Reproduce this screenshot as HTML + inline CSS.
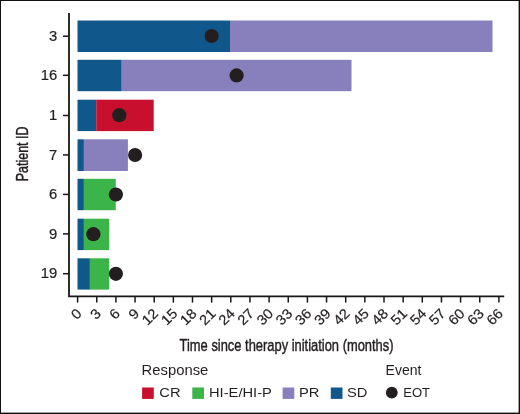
<!DOCTYPE html>
<html><head><meta charset="utf-8"><title>Swimmer plot</title>
<style>
html,body{margin:0;padding:0;background:#fff;}
body{width:520px;height:414px;overflow:hidden;}
svg{display:block;}
text{font-family:"Liberation Sans",Arial,Helvetica,sans-serif;fill:#231f20;}
</style></head><body>
<svg width="520" height="414" viewBox="0 0 520 414">
<rect x="0" y="0" width="520" height="414" fill="#fff"/>

<rect x="0" y="0" width="520" height="1" fill="#111"/>
<rect x="0" y="0" width="1" height="414" fill="#111"/>
<rect x="518.6" y="0" width="1.4" height="414" fill="#111"/>
<rect x="0" y="412.6" width="520" height="1.4" fill="#111"/>
<rect x="77.50" y="20.50" width="152.50" height="31.50" fill="#10588c"/>
<rect x="230.00" y="20.50" width="262.50" height="31.50" fill="#8780bd"/>
<rect x="77.50" y="59.80" width="44.25" height="31.40" fill="#10588c"/>
<rect x="121.75" y="59.80" width="229.75" height="31.40" fill="#8780bd"/>
<rect x="77.50" y="99.70" width="18.70" height="31.40" fill="#10588c"/>
<rect x="96.20" y="99.70" width="57.50" height="31.40" fill="#c8102e"/>
<rect x="77.50" y="139.30" width="6.40" height="31.70" fill="#10588c"/>
<rect x="83.90" y="139.30" width="44.00" height="31.70" fill="#8780bd"/>
<rect x="77.50" y="178.80" width="6.40" height="31.40" fill="#10588c"/>
<rect x="83.90" y="178.80" width="31.85" height="31.40" fill="#3bb44a"/>
<rect x="77.50" y="218.70" width="6.40" height="31.40" fill="#10588c"/>
<rect x="83.90" y="218.70" width="25.30" height="31.40" fill="#3bb44a"/>
<rect x="77.50" y="258.30" width="12.40" height="31.30" fill="#10588c"/>
<rect x="89.90" y="258.30" width="19.30" height="31.30" fill="#3bb44a"/>
<circle cx="211.60" cy="36.00" r="7.1" fill="#231f20"/>
<circle cx="236.60" cy="75.40" r="7.1" fill="#231f20"/>
<circle cx="119.30" cy="115.20" r="7.1" fill="#231f20"/>
<circle cx="135.10" cy="155.00" r="7.1" fill="#231f20"/>
<circle cx="115.90" cy="194.50" r="7.1" fill="#231f20"/>
<circle cx="93.40" cy="234.20" r="7.1" fill="#231f20"/>
<circle cx="115.90" cy="273.80" r="7.1" fill="#231f20"/>
<path d="M69 12.9 V296.4 H504.2" fill="none" stroke="#1a1718" stroke-width="1.8"/>
<path d="M63 36.20 H69" stroke="#1a1718" stroke-width="1.5"/>
<text transform="translate(57.2 40.85) scale(1.06 1)" font-size="14.0" text-anchor="end" stroke="#231f20" stroke-width="0.2">3</text>
<path d="M63 75.30 H69" stroke="#1a1718" stroke-width="1.5"/>
<text transform="translate(57.2 79.95) scale(1.06 1)" font-size="14.0" text-anchor="end" stroke="#231f20" stroke-width="0.2">16</text>
<path d="M63 115.50 H69" stroke="#1a1718" stroke-width="1.5"/>
<text transform="translate(57.2 120.15) scale(1.06 1)" font-size="14.0" text-anchor="end" stroke="#231f20" stroke-width="0.2">1</text>
<path d="M63 154.90 H69" stroke="#1a1718" stroke-width="1.5"/>
<text transform="translate(57.2 159.55) scale(1.06 1)" font-size="14.0" text-anchor="end" stroke="#231f20" stroke-width="0.2">7</text>
<path d="M63 194.40 H69" stroke="#1a1718" stroke-width="1.5"/>
<text transform="translate(57.2 199.05) scale(1.06 1)" font-size="14.0" text-anchor="end" stroke="#231f20" stroke-width="0.2">6</text>
<path d="M63 233.90 H69" stroke="#1a1718" stroke-width="1.5"/>
<text transform="translate(57.2 238.55) scale(1.06 1)" font-size="14.0" text-anchor="end" stroke="#231f20" stroke-width="0.2">9</text>
<path d="M63 273.70 H69" stroke="#1a1718" stroke-width="1.5"/>
<text transform="translate(57.2 278.35) scale(1.06 1)" font-size="14.0" text-anchor="end" stroke="#231f20" stroke-width="0.2">19</text>
<path d="M77.60 296.4 V302.6" stroke="#1a1718" stroke-width="1.5"/>
<text transform="translate(82.60 314.3) rotate(-45) scale(1.06 1)" font-size="14.0" text-anchor="end" stroke="#231f20" stroke-width="0.2">0</text>
<path d="M96.75 296.4 V302.6" stroke="#1a1718" stroke-width="1.5"/>
<text transform="translate(101.75 314.3) rotate(-45) scale(1.06 1)" font-size="14.0" text-anchor="end" stroke="#231f20" stroke-width="0.2">3</text>
<path d="M115.90 296.4 V302.6" stroke="#1a1718" stroke-width="1.5"/>
<text transform="translate(120.90 314.3) rotate(-45) scale(1.06 1)" font-size="14.0" text-anchor="end" stroke="#231f20" stroke-width="0.2">6</text>
<path d="M135.05 296.4 V302.6" stroke="#1a1718" stroke-width="1.5"/>
<text transform="translate(140.05 314.3) rotate(-45) scale(1.06 1)" font-size="14.0" text-anchor="end" stroke="#231f20" stroke-width="0.2">9</text>
<path d="M154.20 296.4 V302.6" stroke="#1a1718" stroke-width="1.5"/>
<text transform="translate(159.20 314.3) rotate(-45) scale(1.06 1)" font-size="14.0" text-anchor="end" stroke="#231f20" stroke-width="0.2">12</text>
<path d="M173.35 296.4 V302.6" stroke="#1a1718" stroke-width="1.5"/>
<text transform="translate(178.35 314.3) rotate(-45) scale(1.06 1)" font-size="14.0" text-anchor="end" stroke="#231f20" stroke-width="0.2">15</text>
<path d="M192.50 296.4 V302.6" stroke="#1a1718" stroke-width="1.5"/>
<text transform="translate(197.50 314.3) rotate(-45) scale(1.06 1)" font-size="14.0" text-anchor="end" stroke="#231f20" stroke-width="0.2">18</text>
<path d="M211.65 296.4 V302.6" stroke="#1a1718" stroke-width="1.5"/>
<text transform="translate(216.65 314.3) rotate(-45) scale(1.06 1)" font-size="14.0" text-anchor="end" stroke="#231f20" stroke-width="0.2">21</text>
<path d="M230.80 296.4 V302.6" stroke="#1a1718" stroke-width="1.5"/>
<text transform="translate(235.80 314.3) rotate(-45) scale(1.06 1)" font-size="14.0" text-anchor="end" stroke="#231f20" stroke-width="0.2">24</text>
<path d="M249.95 296.4 V302.6" stroke="#1a1718" stroke-width="1.5"/>
<text transform="translate(254.95 314.3) rotate(-45) scale(1.06 1)" font-size="14.0" text-anchor="end" stroke="#231f20" stroke-width="0.2">27</text>
<path d="M269.10 296.4 V302.6" stroke="#1a1718" stroke-width="1.5"/>
<text transform="translate(274.10 314.3) rotate(-45) scale(1.06 1)" font-size="14.0" text-anchor="end" stroke="#231f20" stroke-width="0.2">30</text>
<path d="M288.25 296.4 V302.6" stroke="#1a1718" stroke-width="1.5"/>
<text transform="translate(293.25 314.3) rotate(-45) scale(1.06 1)" font-size="14.0" text-anchor="end" stroke="#231f20" stroke-width="0.2">33</text>
<path d="M307.40 296.4 V302.6" stroke="#1a1718" stroke-width="1.5"/>
<text transform="translate(312.40 314.3) rotate(-45) scale(1.06 1)" font-size="14.0" text-anchor="end" stroke="#231f20" stroke-width="0.2">36</text>
<path d="M326.55 296.4 V302.6" stroke="#1a1718" stroke-width="1.5"/>
<text transform="translate(331.55 314.3) rotate(-45) scale(1.06 1)" font-size="14.0" text-anchor="end" stroke="#231f20" stroke-width="0.2">39</text>
<path d="M345.70 296.4 V302.6" stroke="#1a1718" stroke-width="1.5"/>
<text transform="translate(350.70 314.3) rotate(-45) scale(1.06 1)" font-size="14.0" text-anchor="end" stroke="#231f20" stroke-width="0.2">42</text>
<path d="M364.85 296.4 V302.6" stroke="#1a1718" stroke-width="1.5"/>
<text transform="translate(369.85 314.3) rotate(-45) scale(1.06 1)" font-size="14.0" text-anchor="end" stroke="#231f20" stroke-width="0.2">45</text>
<path d="M384.00 296.4 V302.6" stroke="#1a1718" stroke-width="1.5"/>
<text transform="translate(389.00 314.3) rotate(-45) scale(1.06 1)" font-size="14.0" text-anchor="end" stroke="#231f20" stroke-width="0.2">48</text>
<path d="M403.15 296.4 V302.6" stroke="#1a1718" stroke-width="1.5"/>
<text transform="translate(408.15 314.3) rotate(-45) scale(1.06 1)" font-size="14.0" text-anchor="end" stroke="#231f20" stroke-width="0.2">51</text>
<path d="M422.30 296.4 V302.6" stroke="#1a1718" stroke-width="1.5"/>
<text transform="translate(427.30 314.3) rotate(-45) scale(1.06 1)" font-size="14.0" text-anchor="end" stroke="#231f20" stroke-width="0.2">54</text>
<path d="M441.45 296.4 V302.6" stroke="#1a1718" stroke-width="1.5"/>
<text transform="translate(446.45 314.3) rotate(-45) scale(1.06 1)" font-size="14.0" text-anchor="end" stroke="#231f20" stroke-width="0.2">57</text>
<path d="M460.60 296.4 V302.6" stroke="#1a1718" stroke-width="1.5"/>
<text transform="translate(465.60 314.3) rotate(-45) scale(1.06 1)" font-size="14.0" text-anchor="end" stroke="#231f20" stroke-width="0.2">60</text>
<path d="M479.75 296.4 V302.6" stroke="#1a1718" stroke-width="1.5"/>
<text transform="translate(484.75 314.3) rotate(-45) scale(1.06 1)" font-size="14.0" text-anchor="end" stroke="#231f20" stroke-width="0.2">63</text>
<path d="M498.90 296.4 V302.6" stroke="#1a1718" stroke-width="1.5"/>
<text transform="translate(503.90 314.3) rotate(-45) scale(1.06 1)" font-size="14.0" text-anchor="end" stroke="#231f20" stroke-width="0.2">66</text>
<text transform="translate(179.6 351.3) scale(0.76 1)" font-size="17" stroke="#231f20" stroke-width="0.45">Time since therapy initiation (months)</text>
<text transform="translate(28.1 181.3) rotate(-90) scale(0.735 1)" font-size="17" stroke="#231f20" stroke-width="0.45">Patient ID</text>
<text transform="translate(141.6 375.3) scale(1.06 1)" font-size="14">Response</text>
<text transform="translate(385.6 375.3) scale(1.0 1)" font-size="14">Event</text>
<rect x="142.1" y="387.5" width="11.7" height="11.4" fill="#c8102e"/>
<rect x="192.3" y="387.5" width="11.7" height="11.4" fill="#3bb44a"/>
<rect x="282.6" y="387.5" width="11.7" height="11.4" fill="#8780bd"/>
<rect x="330.8" y="387.5" width="11.7" height="11.4" fill="#10588c"/>
<text transform="translate(159.3 397.3) scale(1.09 1)" font-size="13.5">CR</text>
<text transform="translate(209.0 397.3) scale(1.09 1)" font-size="13.5">HI-E/HI-P</text>
<text transform="translate(299.0 397.3) scale(1.09 1)" font-size="13.5">PR</text>
<text transform="translate(347.0 397.3) scale(1.09 1)" font-size="13.5">SD</text>
<circle cx="391.8" cy="392.7" r="5.9" fill="#231f20"/>
<text transform="translate(403.2 397.3) scale(0.97 1)" font-size="13.5">EOT</text>
</svg></body></html>
